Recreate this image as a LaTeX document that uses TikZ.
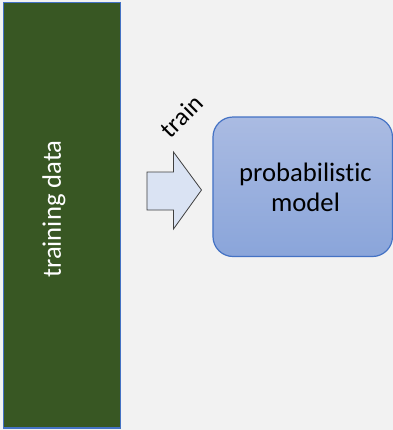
\documentclass[tikz,border=0pt]{standalone}
\usepackage{fontspec}
\setmainfont[Ligatures=NoCommon]{Carlito}
\definecolor{pagebg}{HTML}{F2F2F2}
\definecolor{datagreen}{HTML}{385723}
\definecolor{accentblue}{HTML}{4472C4}
\definecolor{arrowfill}{HTML}{DAE3F3}
\definecolor{arrowline}{HTML}{404040}
\definecolor{modeltop}{HTML}{AABBE2}
\definecolor{modelbot}{HTML}{8AA5DA}
\tikzset{
  databox/.style={draw=accentblue, line width=0.9pt, fill=datagreen},
  modelbox/.style={draw=accentblue, line width=0.9pt, rounded corners=15pt,
    top color=modeltop, bottom color=modelbot},
  blockarrow/.style={draw=arrowline, line width=0.6pt, fill=arrowfill, line join=miter},
  labeltext/.style={font=\fontsize{20}{22.5}\selectfont, align=center, inner sep=1pt}
}
\begin{document}
\begin{tikzpicture}[x=0.75pt, y=-0.75pt]
  % canvas
  \fill[pagebg] (0,0) rectangle (393,430);
  \useasboundingbox (0,0) rectangle (393,430);

  % training data column
  \draw[databox] (3.5,2.5) rectangle (120.5,428);
  \node[labeltext, text=white, rotate=90] (data) at (54,209) {training data};

  % block arrow
  \draw[blockarrow] (147,172) -- (173.5,172) -- (173.5,152) -- (201.5,190)
    -- (173.5,229) -- (173.5,210) -- (147,210) -- cycle;
  \node[labeltext, rotate=45, font=\fontsize{19}{22}\selectfont] (train) at (181.5,116) {train};

  % probabilistic model
  \draw[modelbox] (213,117) rectangle (392.5,256.5);
  \node[labeltext] (model) at (305.5,187) {probabilistic\\model};
\end{tikzpicture}
\end{document}
